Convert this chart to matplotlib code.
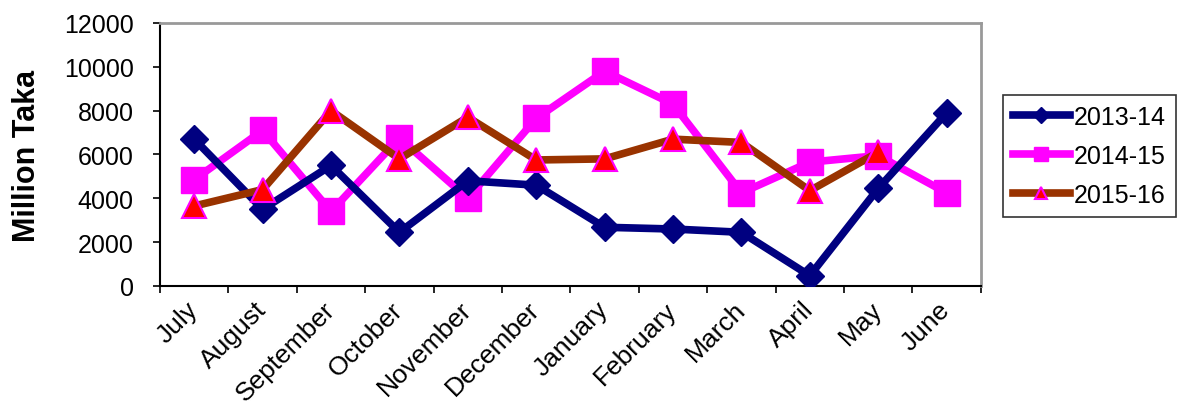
import numpy as np
import matplotlib.pyplot as plt

plt.rcParams['font.family'] = ['Liberation Sans', 'DejaVu Sans']

months = ['July', 'August', 'September', 'October', 'November', 'December',
          'January', 'February', 'March', 'April', 'May', 'June']
fy1314 = [6700, 3500, 5500, 2450, 4800, 4600, 2680, 2600, 2450, 470, 4450, 7900]
fy1415 = [4850, 7100, 3400, 6750, 4000, 7650, 9800, 8300, 4250, 5650, 5950, 4250]
fy1516 = [3650, 4400, 8000, 5800, 7700, 5750, 5800, 6700, 6550, 4350, 6100]

fig = plt.figure(figsize=(11.81, 4.10), dpi=100)
ax = fig.add_axes([0.1355, 0.30, 0.695, 0.6415])

x = np.arange(len(months)) + 0.5
ax.plot(x, fy1314, color='#000080', lw=5.5, marker='D', ms=14,
        mfc='#000080', mec='#000080', label='2013-14', zorder=3)
ax.plot(x, fy1415, color='#FF00FF', lw=5.5, marker='s', ms=19,
        mfc='#FF00FF', mec='#FF00FF', label='2014-15', zorder=2)
ax.plot(x[:len(fy1516)], fy1516, color='#993300', lw=5.5, marker='^', ms=17,
        mfc='#FF0000', mec='#FF00FF', mew=1.5, label='2015-16', zorder=4)

ax.set_xlim(0, 12)
ax.set_ylim(0, 12000)
ax.set_yticks(np.arange(0, 12001, 2000))
ax.set_xticks(np.arange(0, 13))
ax.set_xticklabels([])
ax.set_xticks(x, minor=True)
ax.set_xticklabels(months, minor=True, rotation=45, ha='right', va='center',
                   rotation_mode='anchor', fontsize=19)
ax.tick_params(axis='x', which='minor', length=0, pad=14)
ax.tick_params(axis='x', which='major', length=5, width=1.2, direction='out')
ax.tick_params(axis='y', length=5, width=1.2, labelsize=18, pad=14)

ax.spines['top'].set_color('#999999')
ax.spines['right'].set_color('#999999')
for s in ['top', 'right']:
    ax.spines[s].set_linewidth(2)
ax.spines['left'].set_linewidth(1.5)
ax.spines['bottom'].set_linewidth(1.5)

ax.set_ylabel('Million Taka', fontsize=22, fontweight='bold', labelpad=16)

leg = fig.legend(loc='center left', bbox_to_anchor=(0.849, 0.618), fontsize=18,
                 frameon=True, fancybox=False, edgecolor='black',
                 handlelength=2.3, handletextpad=0.15, borderpad=0.4,
                 borderaxespad=0, labelspacing=0.6, markerscale=0.55)
leg.get_frame().set_linewidth(1.2)

plt.savefig('out.png', dpi=100)
